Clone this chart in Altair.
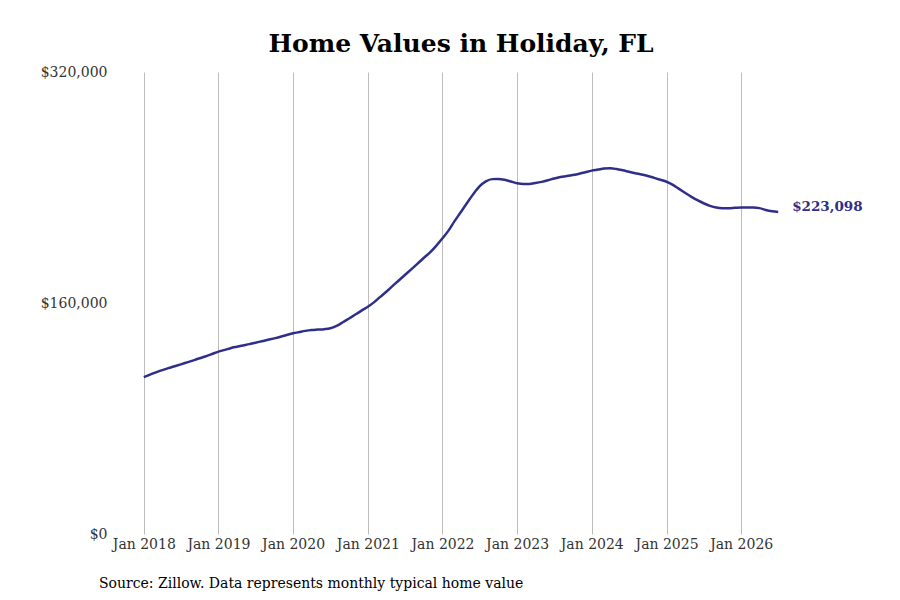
import altair as alt
import pandas as pd

years = [2018, 2019, 2020, 2021, 2022, 2023, 2024, 2025, 2026]
values_2018 = [108700, 110400, 112000, 113500, 114900, 116200, 117500, 118900, 120300, 121700, 123100, 124700]
values_2019 = [126300, 127500, 128700, 129700, 130600, 131500, 132500, 133500, 134500, 135500, 136600, 137800]
values_2020 = [139000, 139900, 140700, 141300, 141600, 141900, 142500, 144200, 146700, 149300, 152000, 154700]
values_2021 = [157400, 160600, 164100, 167800, 171700, 175600, 179400, 183300, 187300, 191200, 195000, 199600]
values_2022 = [204800, 210500, 216700, 223000, 229300, 235500, 240700, 244200, 245800, 245900, 245300, 244200]
values_2023 = [243000, 242500, 242500, 243100, 243900, 245000, 246200, 247300, 247900, 248600, 249500, 250600]
values_2024 = [251700, 252400, 253100, 253300, 252800, 251900, 250900, 249900, 249000, 248000, 246700, 245400]
values_2025 = [244000, 241800, 239200, 236400, 233700, 231200, 229100, 227300, 226100, 225700, 225700, 225900]
values_2026 = [226100, 226200, 226200, 225700, 224400, 223500, 223098]

series = [values_2018, values_2019, values_2020, values_2021, values_2022,
          values_2023, values_2024, values_2025, values_2026]

dates, vals = [], []
for y, vs in zip(years, series):
    for m, v in enumerate(vs, start=1):
        dates.append(f"{y}/{m:02d}/01")
        vals.append(v)

df = pd.DataFrame({"date": dates, "value": vals})
last = df.tail(1).copy()
last["label"] = "$223,098"

FONT = "DejaVu Serif"
LINE_COLOR = "#2f2f8a"

x_scale = alt.Scale(domain=[alt.DateTime(year=2017, month=10, date=1),
                            alt.DateTime(year=2026, month=10, date=1)], nice=False)
y_scale = alt.Scale(domain=[0, 320000], nice=False, zero=True)

x_enc = alt.X(
    "date:T",
    scale=x_scale,
    axis=alt.Axis(
        title=None,
        values=[alt.DateTime(year=y, month=1, date=1) for y in years],
        format="%b %Y",
        grid=True, gridColor="#bdbdbd", gridWidth=1,
        domain=False, ticks=False, tickSize=0,
        labelFont=FONT, labelFontSize=14, labelColor="#333333",
        labelPadding=3,
    ),
)
y_enc = alt.Y(
    "value:Q",
    scale=y_scale,
    axis=alt.Axis(
        title=None,
        values=[0, 160000, 320000],
        format="$,.0f",
        grid=False, domain=False, ticks=False, tickSize=0,
        labelFont=FONT, labelFontSize=14, labelColor="#333333",
        labelPadding=18, labelAlign="right",
    ),
)

line = alt.Chart(df).mark_line(
    color=LINE_COLOR, strokeWidth=2.5, interpolate="monotone"
).encode(x=x_enc, y=y_enc)

end_label = alt.Chart(last).mark_text(
    align="left", baseline="middle", dx=14, dy=-5,
    font=FONT, fontSize=13.5, fontWeight="bold", color=LINE_COLOR,
).encode(
    x=alt.X("date:T", scale=x_scale),
    y=alt.Y("value:Q", scale=y_scale),
    text="label:N",
)

source = alt.Chart(pd.DataFrame({"t": ["Source: Zillow. Data represents monthly typical home value"]})).mark_text(
    align="left", baseline="middle", font=FONT, fontSize=14, color="#000000",
).encode(x=alt.value(-26), y=alt.value(512), text="t:N")

chart = alt.layer(line, end_label, source).properties(
    width=672,
    height=462,
    background="white",
    title=alt.TitleParams(
        "Home Values in Holiday, FL",
        font=FONT, fontSize=25, fontWeight="bold", color="#000000",
        anchor="middle", frame="group", offset=8,
    ),
    autosize=alt.AutoSizeParams(type="none"),
    padding={"left": 117, "top": 64, "right": 95, "bottom": 58},
).configure_view(stroke=None)

chart.save("out.html", embed_options={"renderer": "svg", "actions": False})
